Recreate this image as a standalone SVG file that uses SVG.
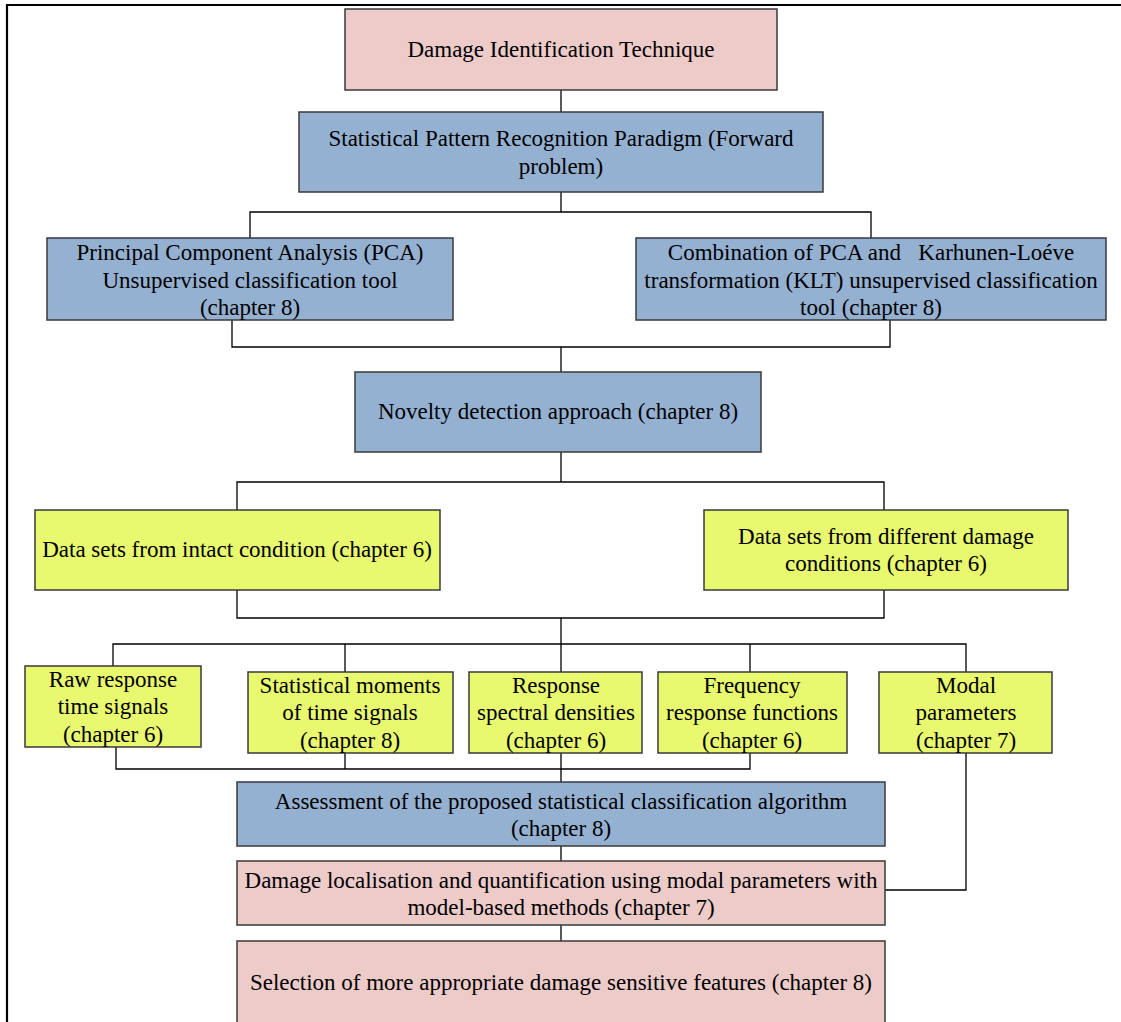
<svg xmlns="http://www.w3.org/2000/svg" width="1121" height="1022" viewBox="0 0 1121 1022" font-family="'Liberation Serif', 'Times New Roman', 'DejaVu Serif', serif">
  <style>
    .box rect { stroke: #3a3a3a; stroke-width: 1.5; }
    .pink rect { fill: #ECCBC9; }
    .blue rect { fill: #95B1D2; }
    .yellow rect { fill: #E8F86F; }
    .box text { font-size: 23px; fill: #000; text-anchor: middle; }
    .wires path { fill: none; stroke: #000; stroke-width: 1.3; }
  </style>
  <rect width="1121" height="1022" fill="#fff"/>
  <!-- outer frame (open to the right and bottom) -->
  <path d="M7,1022 V5 H1121" fill="none" stroke="#000" stroke-width="2.2"/>

  <g class="wires" id="connectors">
    <path d="M561,90 V112"/>
    <path d="M561,192 V212 M250,238 V212 H871 V238"/>
    <path d="M232,320 V347 H890 V320 M561,347 V372"/>
    <path d="M561,452 V482 M237,510 V482 H884 V510"/>
    <path d="M237,590 V618 H884 V590 M561,618 V644"/>
    <path d="M113,666 V644 H966 V672 M345,644 V672 M561,644 V672 M750,644 V672"/>
    <path d="M116,747 V769 H750 V753 M345,753 V769 M561,753 V782"/>
    <path d="M966,753 V890 H885"/>
    <path d="M561,846 V861"/>
    <path d="M561,925 V941"/>
  </g>

  <g id="damage-identification" class="box pink">
    <rect x="345" y="9" width="432" height="81"/>
    <text x="561" y="57">Damage Identification Technique</text>
  </g>
  <g id="pattern-recognition" class="box blue">
    <rect x="299" y="112" width="524" height="80"/>
    <text x="561" y="146">Statistical Pattern Recognition Paradigm (Forward</text>
    <text x="561" y="174">problem)</text>
  </g>
  <g id="pca" class="box blue">
    <rect x="47" y="238" width="406" height="82"/>
    <text x="250" y="260">Principal Component Analysis (PCA)</text>
    <text x="250" y="288">Unsupervised classification tool</text>
    <text x="250" y="315">(chapter 8)</text>
  </g>
  <g id="pca-klt" class="box blue">
    <rect x="636" y="238" width="470" height="82"/>
    <text x="871" y="260" xml:space="preserve">Combination of PCA and   Karhunen-Loéve</text>
    <text x="871" y="288">transformation (KLT) unsupervised classification</text>
    <text x="871" y="315">tool (chapter 8)</text>
  </g>
  <g id="novelty-detection" class="box blue">
    <rect x="355" y="372" width="406" height="80"/>
    <text x="558" y="419">Novelty detection approach (chapter 8)</text>
  </g>
  <g id="intact-data" class="box yellow">
    <rect x="35" y="510" width="405" height="80"/>
    <text x="237" y="557">Data sets from intact condition (chapter 6)</text>
  </g>
  <g id="damage-data" class="box yellow">
    <rect x="704" y="510" width="364" height="80"/>
    <text x="886" y="544">Data sets from different damage</text>
    <text x="886" y="571">conditions (chapter 6)</text>
  </g>
  <g id="raw-signals" class="box yellow">
    <rect x="25" y="666" width="176" height="81"/>
    <text x="113" y="687">Raw response</text>
    <text x="113" y="714">time signals</text>
    <text x="113" y="742">(chapter 6)</text>
  </g>
  <g id="statistical-moments" class="box yellow">
    <rect x="248" y="672" width="205" height="81"/>
    <text x="350" y="693">Statistical moments</text>
    <text x="350" y="720">of time signals</text>
    <text x="350" y="748">(chapter 8)</text>
  </g>
  <g id="spectral-densities" class="box yellow">
    <rect x="469" y="672" width="173" height="81"/>
    <text x="556" y="693">Response</text>
    <text x="556" y="720">spectral densities</text>
    <text x="556" y="748">(chapter 6)</text>
  </g>
  <g id="frf" class="box yellow">
    <rect x="658" y="672" width="189" height="81"/>
    <text x="752" y="693">Frequency</text>
    <text x="752" y="720">response functions</text>
    <text x="752" y="748">(chapter 6)</text>
  </g>
  <g id="modal-parameters" class="box yellow">
    <rect x="879" y="672" width="173" height="81"/>
    <text x="966" y="693">Modal</text>
    <text x="966" y="720">parameters</text>
    <text x="966" y="748">(chapter 7)</text>
  </g>
  <g id="assessment" class="box blue">
    <rect x="237" y="782" width="648" height="64"/>
    <text x="561" y="809">Assessment of the proposed statistical classification algorithm</text>
    <text x="561" y="836">(chapter 8)</text>
  </g>
  <g id="localisation" class="box pink">
    <rect x="237" y="861" width="648" height="64"/>
    <text x="561" y="888">Damage localisation and quantification using modal parameters with</text>
    <text x="561" y="915">model-based methods (chapter 7)</text>
  </g>
  <g id="feature-selection" class="box pink">
    <rect x="237" y="941" width="648" height="100"/>
    <text x="561" y="990">Selection of more appropriate damage sensitive features (chapter 8)</text>
  </g>
</svg>
